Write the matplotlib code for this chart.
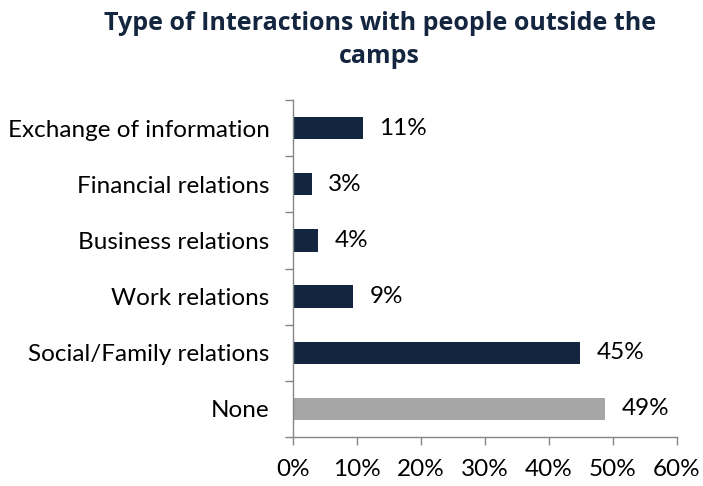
import numpy as np
import matplotlib.pyplot as plt
from matplotlib.ticker import FixedLocator

# data (percent)
categories = ['None', 'Social/Family relations', 'Work relations',
              'Business relations', 'Financial relations', 'Exchange of information']
values = [48.7, 44.9, 9.4, 3.9, 2.9, 10.9]
labels = ['49%', '45%', '9%', '4%', '3%', '11%']
x_ticks = [0, 10, 20, 30, 40, 50, 60]

navy = '#14263f'
grey = '#a6a6a6'
colors = [grey] + [navy] * (len(categories) - 1)

plt.rcParams['font.family'] = ['Lato', 'DejaVu Sans']
fs = 17.5

fig = plt.figure(figsize=(7.03, 4.86), dpi=100)
ax = fig.add_axes([0.4168, 0.1008, 0.5462, 0.6934])

y = np.arange(len(categories))
ax.barh(y, values, height=0.4, color=colors)

# data labels to the right of each bar
for yi, v, lab in zip(y, values, labels):
    ax.annotate(lab, (v, yi), xytext=(12, 0), textcoords='offset points',
                va='center', ha='left', fontsize=fs, color='black')

ax.set_xlim(0, 60)
ax.set_ylim(-0.5, len(categories) - 0.5)
ax.set_xticks(x_ticks)
ax.set_xticklabels([f'{t}%' for t in x_ticks], fontsize=fs)
ax.set_yticks(y)
ax.set_yticklabels(categories, fontsize=fs)

# ticks sit between categories like the original
ax.yaxis.set_minor_locator(FixedLocator(np.arange(-0.5, len(categories), 1)))
ax.tick_params(axis='y', which='major', length=0, pad=17)
ax.tick_params(axis='y', which='minor', length=6, width=1, color='#868686')
ax.tick_params(axis='x', length=6, width=1, color='#868686', pad=10)

for side in ['top', 'right']:
    ax.spines[side].set_visible(False)
for side in ['left', 'bottom']:
    ax.spines[side].set_color('#868686')
    ax.spines[side].set_linewidth(1)

fig.text(0.54, 0.978, 'Type of Interactions with people outside the\ncamps',
         ha='center', va='top', fontsize=18, fontweight='bold', color=navy,
         family=['Open Sans', 'DejaVu Sans'], linespacing=1.45)

fig.savefig('out.png', dpi=100)
